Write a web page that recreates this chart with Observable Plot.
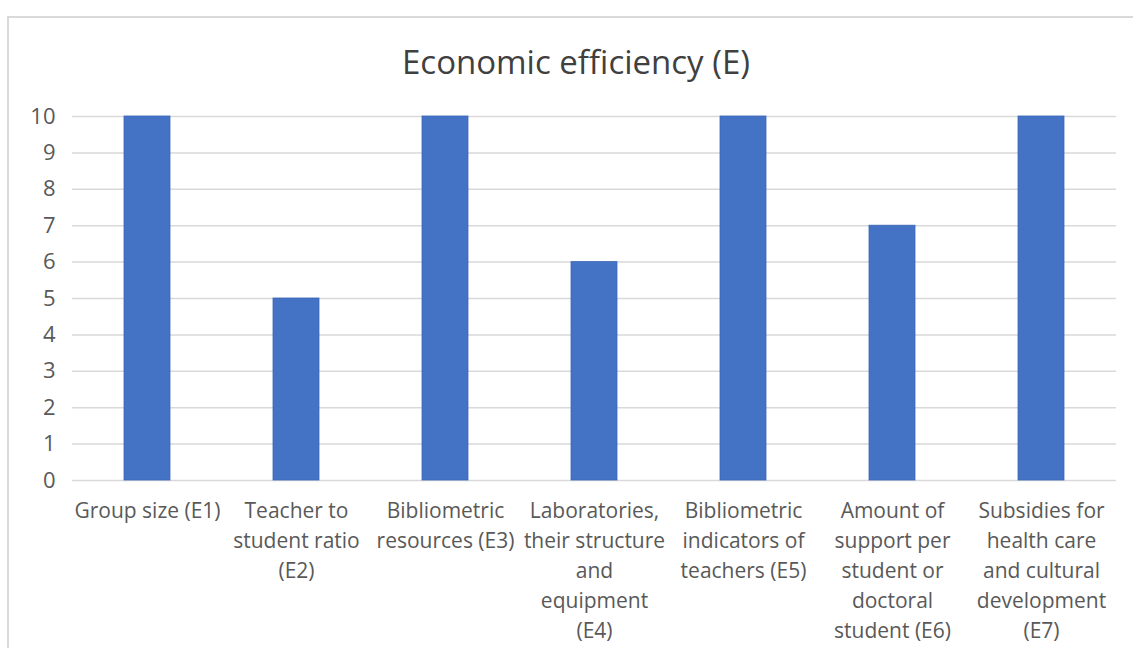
<!DOCTYPE html>
<html>
<head>
<meta charset="utf-8">
<script src="https://cdn.jsdelivr.net/npm/d3@7"></script>
<script src="https://cdn.jsdelivr.net/npm/@observablehq/plot@0.6"></script>
<style>
  html, body { margin: 0; padding: 0; background: #fff; overflow: hidden; }
  #page { position: relative; width: 1133px; height: 648px; }
  #frame {
    position: absolute; left: 7px; top: 16px; width: 1160px; height: 700px;
    border: 2px solid #d9d9d9; box-sizing: border-box;
  }
  #title {
    position: absolute; left: 0; top: 42px; width: 1152px; text-align: center;
    font-family: "Open Sans", sans-serif; font-size: 33px; color: #404040;
    line-height: 40px;
  }
  #chart { position: absolute; left: 0; top: 0; }
</style>
</head>
<body>
<div id="page">
  <div id="frame"></div>
  <div id="title">Economic efficiency (E)</div>
  <div id="chart"></div>
</div>
<script>
// Indicator labels (with line breaks) and their scores
const categories = [
  "Group size (E1)",
  "Teacher to\nstudent ratio\n(E2)",
  "Bibliometric\nresources (E3)",
  "Laboratories,\ntheir structure\nand\nequipment\n(E4)",
  "Bibliometric\nindicators of\nteachers (E5)",
  "Amount of\nsupport per\nstudent or\ndoctoral\nstudent (E6)",
  "Subsidies for\nhealth care\nand cultural\ndevelopment\n(E7)"
];
const scores = [10, 5, 10, 6, 10, 7, 10];
const yTicks = [0, 1, 2, 3, 4, 5, 6, 7, 8, 9, 10];

const data = categories.map((c, i) => ({category: c, score: scores[i]}));

const chart = Plot.plot({
  width: 1133,
  height: 648,
  marginLeft: 72,
  marginRight: 17,
  marginTop: 116,
  marginBottom: 168,
  style: {fontFamily: "'Open Sans', sans-serif", color: "#595959", background: "transparent"},
  x: {domain: categories, paddingInner: 0.69, paddingOuter: 0.345, label: null},
  y: {domain: [0, 10], label: null},
  marks: [
    Plot.gridY(yTicks, {stroke: "#d9d9d9", strokeOpacity: 1, strokeWidth: 1.5}),
    Plot.barY(data, {x: "category", y: "score", fill: "#4472C4", stroke: "#3c68b8", strokeWidth: 0.8}),
    Plot.axisY(yTicks, {tickSize: 0, tickPadding: 17, fontSize: 22, fill: "#595959", label: null}),
    Plot.axisX({tickSize: 0, tickPadding: 16, fontSize: 21, lineHeight: 1.43, fill: "#595959", label: null, textAnchor: "middle"})
  ]
});
document.getElementById("chart").appendChild(chart);
</script>
</body>
</html>
